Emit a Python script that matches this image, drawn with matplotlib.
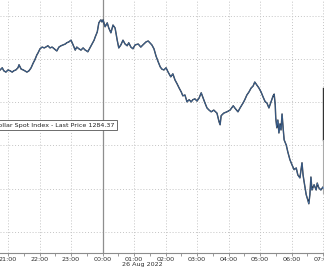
import pandas as pd
import matplotlib
matplotlib.use("Agg")
import matplotlib.pyplot as plt
import matplotlib.dates as mdates

# Bloomberg Dollar Spot Index, intraday 25-26 Aug 2022
times = [
    "20:45", "20:49", "20:52", "20:56", "21:00", "21:04", "21:08", "21:11", "21:15", "21:19",
    "21:21", "21:25", "21:29", "21:32", "21:36", "21:40", "21:44", "21:48", "21:51", "21:55",
    "21:57", "22:01", "22:05", "22:09", "22:12", "22:16", "22:20", "22:24", "22:28", "22:31",
    "22:33", "22:37", "22:41", "22:45", "22:49", "22:52", "22:56", "23:00", "23:04", "23:08",
    "23:11", "23:15", "23:19", "23:23", "23:27", "23:30", "23:32", "23:36", "23:40", "23:44",
    "23:46", "23:50", "23:53", "23:55", "23:57", "23:59", "00:01", "00:05", "00:09", "00:12",
    "00:16", "00:20", "00:24", "00:28", "00:31", "00:35", "00:39", "00:43", "00:47", "00:50",
    "00:54", "00:58", "01:02", "01:08", "01:13", "01:17", "01:23", "01:27", "01:30", "01:34",
    "01:38", "01:42", "01:46", "01:50", "01:53", "01:57", "02:01", "02:05", "02:10", "02:14",
    "02:18", "02:22", "02:26", "02:30", "02:33", "02:37", "02:41", "02:45", "02:49", "02:52",
    "02:56", "03:00", "03:04", "03:08", "03:11", "03:15", "03:19", "03:23", "03:27", "03:32",
    "03:38", "03:42", "03:44", "03:46", "03:51", "03:57", "04:03", "04:09", "04:12", "04:18",
    "04:22", "04:28", "04:31", "04:35", "04:39", "04:43", "04:47", "04:50", "04:54", "04:58",
    "05:02", "05:06", "05:10", "05:13", "05:17", "05:21", "05:25", "05:27", "05:29", "05:30",
    "05:32", "05:34", "05:36", "05:38", "05:40", "05:42", "05:44", "05:46", "05:50", "05:53",
    "05:57", "06:01", "06:05", "06:09", "06:12", "06:16", "06:20", "06:22", "06:24", "06:28",
    "06:31", "06:33", "06:35", "06:37", "06:39", "06:43", "06:47", "06:49", "06:52", "06:56",
    "07:00", "07:02",
]
prices = [
    1288.75, 1288.80, 1288.73, 1288.70, 1288.75, 1288.73, 1288.70, 1288.73, 1288.75, 1288.80,
    1288.87, 1288.77, 1288.75, 1288.73, 1288.70, 1288.73, 1288.80, 1288.91, 1288.98, 1289.10,
    1289.14, 1289.24, 1289.28, 1289.26, 1289.28, 1289.31, 1289.26, 1289.28, 1289.24, 1289.21,
    1289.19, 1289.28, 1289.31, 1289.33, 1289.35, 1289.38, 1289.40, 1289.44, 1289.33, 1289.21,
    1289.28, 1289.24, 1289.21, 1289.26, 1289.21, 1289.19, 1289.17, 1289.26, 1289.35, 1289.44,
    1289.51, 1289.63, 1289.84, 1289.88, 1289.91, 1289.86, 1289.91, 1289.75, 1289.84, 1289.72,
    1289.61, 1289.79, 1289.72, 1289.44, 1289.26, 1289.33, 1289.44, 1289.35, 1289.31, 1289.38,
    1289.28, 1289.24, 1289.33, 1289.35, 1289.28, 1289.33, 1289.40, 1289.42, 1289.38, 1289.33,
    1289.24, 1289.07, 1288.94, 1288.82, 1288.77, 1288.75, 1288.80, 1288.70, 1288.59, 1288.66,
    1288.52, 1288.43, 1288.33, 1288.24, 1288.15, 1288.17, 1288.01, 1288.06, 1288.01, 1288.06,
    1288.08, 1288.03, 1288.10, 1288.22, 1288.12, 1287.99, 1287.87, 1287.82, 1287.78, 1287.82,
    1287.75, 1287.55, 1287.48, 1287.69, 1287.75, 1287.78, 1287.82, 1287.92, 1287.87, 1287.78,
    1287.87, 1287.99, 1288.06, 1288.17, 1288.24, 1288.33, 1288.38, 1288.47, 1288.40, 1288.33,
    1288.24, 1288.12, 1288.01, 1287.99, 1287.87, 1288.01, 1288.15, 1288.19, 1287.94, 1287.64,
    1287.41, 1287.59, 1287.29, 1287.50, 1287.36, 1287.73, 1287.41, 1287.13, 1287.01, 1286.85,
    1286.67, 1286.55, 1286.44, 1286.48, 1286.32, 1286.25, 1286.60, 1286.32, 1286.16, 1285.86,
    1285.74, 1285.65, 1285.86, 1286.27, 1285.97, 1286.09, 1285.97, 1286.13, 1286.02, 1285.97,
    1286.04, 1285.99,
]
hour_labels = ["21:00", "22:00", "23:00", "00:00", "01:00", "02:00",
               "03:00", "04:00", "05:00", "06:00", "07:00"]
grid_levels = [1285, 1286, 1287, 1288, 1289, 1290]
legend_text = "Bloomberg Dollar Spot Index - Last Price 1284.37"
date_text = "26 Aug 2022"


def to_stamp(hhmm):
    ts = pd.Timestamp("2022-08-25 " + hhmm)
    if ts.hour < 12:
        ts += pd.Timedelta(days=1)
    return ts


t = [to_stamp(s) for s in times]
hours = [to_stamp(s) for s in hour_labels]

fig = plt.figure(figsize=(3.24, 2.68), dpi=100)
ax = fig.add_axes([0, 15 / 268, 1, 253 / 268])

ax.set_xlim(to_stamp("20:44").to_pydatetime() + pd.Timedelta(seconds=45),
            to_stamp("07:01").to_pydatetime() + pd.Timedelta(seconds=54))
ax.set_ylim(1284.51, 1290.37)

# dotted grid, solid separator at the day change
for lvl in grid_levels:
    ax.axhline(lvl, color="#c4c4c4", lw=0.7, ls=(0, (1, 2)), zorder=0)
for h, lab in zip(hours, hour_labels):
    if lab == "00:00":
        ax.axvline(h, color="#8e8e8e", lw=0.9, zorder=0)
    else:
        ax.axvline(h, color="#c4c4c4", lw=0.7, ls=(0, (1, 2)), zorder=0)

ax.plot(t, prices, color="#141d2a", lw=1.0, zorder=2)
ax.plot(t, prices, color="#5a92d6", lw=0.35, zorder=3)

ax.set_xticks(hours)
ax.set_xticklabels(hour_labels)
ax.xaxis.set_minor_locator(mdates.MinuteLocator(byminute=[30]))
ax.tick_params(axis="x", which="major", length=2, width=0.6, color="#888888",
               pad=1, labelsize=4.6, labelcolor="#2e2e2e")
ax.tick_params(axis="x", which="minor", length=2, width=0.6, color="#888888")
ax.set_yticks([])

for side in ["top", "left", "right"]:
    ax.spines[side].set_visible(False)
ax.spines["bottom"].set_color("#8c8c8c")
ax.spines["bottom"].set_linewidth(0.8)

ax.text(to_stamp("01:15"), -0.045, date_text, transform=ax.get_xaxis_transform(),
        ha="center", va="center", fontsize=4.6, color="#2e2e2e", clip_on=False)

# legend box, cut off at the left edge of the picture
fig.text(114.5 / 324, 1 - 125 / 268, legend_text, ha="right", va="center",
         fontsize=4.6, color="#222222",
         bbox=dict(boxstyle="square,pad=0.45", fc="white", ec="#555555", lw=0.6))

# edge of the cropped price axis on the right
ax.plot([0.996, 0.996], [0.447, 0.652], color="#333333", lw=1.0,
        transform=ax.transAxes, clip_on=False)
ax.plot([0.996, 0.996], [0.237, 0.447], color="#aaaaaa", lw=0.8,
        transform=ax.transAxes, clip_on=False)

fig.savefig("out.png", dpi=100)
